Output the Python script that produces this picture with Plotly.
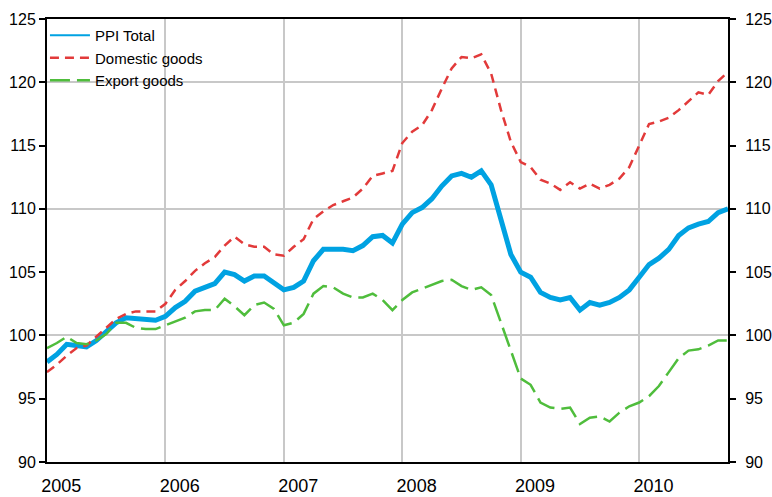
import plotly.graph_objects as go

# month index: 0 = Jan 2005
months = list(range(70))
years = [2005, 2006, 2007, 2008, 2009, 2010]
y_ticks = [90, 95, 100, 105, 110, 115, 120, 125]
y_grid = [100, 110, 120]

ppi_total = [
    97.9, 98.5, 99.3, 99.2, 99.1, 99.6, 100.3, 101.0, 101.4, 101.3, 101.2, 101.2,
    101.5, 102.2, 102.7, 103.5, 103.8, 104.1, 105.0, 104.8, 104.3, 104.7, 104.7, 104.2,
    103.6, 103.8, 104.3, 105.9, 106.8, 106.8, 106.8, 106.7, 107.1, 107.8, 107.9, 107.3,
    108.8, 109.7, 110.1, 110.8, 111.8, 112.6, 112.8, 112.5, 113.0, 111.9, 109.0, 106.4,
    105.0, 104.6, 103.4, 103.0, 102.8, 103.0, 102.0, 102.6, 102.4, 102.6, 103.0, 103.6,
    104.6, 105.6, 106.1, 106.8, 107.9, 108.5, 108.8, 109.0, 109.7, 110.0,
]
domestic = [
    97.1, 97.7, 98.4, 99.0, 99.2, 99.9, 100.6, 101.3, 101.7, 101.9, 101.9, 101.9,
    102.5, 103.6, 104.3, 105.1, 105.7, 106.2, 107.1, 107.8, 107.2, 107.0, 107.0, 106.4,
    106.3, 107.0, 107.6, 109.2, 109.8, 110.3, 110.6, 110.9, 111.6, 112.6, 112.8, 113.0,
    115.2, 116.1, 116.6, 117.8, 119.5, 121.1, 122.0, 121.9, 122.2, 120.7, 117.8, 115.3,
    113.7, 113.3, 112.3, 112.0, 111.5, 112.1, 111.6, 112.0, 111.6, 111.9, 112.4, 113.3,
    115.0, 116.7, 116.9, 117.2, 117.8, 118.5, 119.2, 119.0, 120.1, 120.8,
]
export = [
    99.0, 99.4, 99.9, 99.4, 99.3, 99.6, 100.1, 101.0, 101.0, 100.6, 100.5, 100.5,
    100.8, 101.1, 101.4, 101.9, 102.0, 102.0, 102.9, 102.3, 101.6, 102.4, 102.6, 102.1,
    100.8, 101.0, 101.7, 103.3, 103.9, 103.8, 103.3, 103.0, 103.0, 103.3, 102.8, 102.0,
    102.8, 103.4, 103.7, 104.0, 104.3, 104.4, 103.9, 103.6, 103.8, 103.2, 101.0, 98.9,
    96.6, 96.1, 94.7, 94.3, 94.2, 94.3, 93.0, 93.5, 93.6, 93.2, 93.9, 94.4,
    94.7, 95.2, 96.0, 97.1, 98.2, 98.8, 98.9, 99.2, 99.6, 99.6,
]

year_starts = [12 * (y - years[0]) for y in years]
label_pos = [s + 1.45 for s in year_starts]
x_range = [months[0], months[-1]]
y_range = [y_ticks[0], y_ticks[-1]]

FONT = "Liberation Sans, Arial, sans-serif"
GRID = "#c8c8c8"
BLUE = "#00a2e2"

fig = go.Figure()
fig.add_trace(go.Scatter(x=months, y=ppi_total, name="PPI Total", mode="lines",
                         legendgroup="ppi", showlegend=False,
                         line=dict(color=BLUE, width=5)))
# legend entry with a thin sample line, as in the original legend
fig.add_trace(go.Scatter(x=[None], y=[None], name="PPI Total", mode="lines",
                         legendgroup="ppi", line=dict(color=BLUE, width=2)))
fig.add_trace(go.Scatter(x=months, y=domestic, name="Domestic goods", mode="lines",
                         line=dict(color="#e23a3a", width=2.5, dash="9px,6px")))
fig.add_trace(go.Scatter(x=months, y=export, name="Export goods", mode="lines",
                         line=dict(color="#4fbd3c", width=2.5, dash="20px,7px")))

fig.update_layout(
    width=772, height=497,
    margin=dict(l=47, r=44, t=19, b=35, autoexpand=False),
    paper_bgcolor="white", plot_bgcolor="white",
    font=dict(family=FONT, size=16, color="black"),
    hovermode=False,
    showlegend=True,
    legend=dict(x=-0.003, y=1, xanchor="left", yanchor="top", bgcolor="rgba(0,0,0,0)",
                font=dict(size=15), tracegroupgap=0, itemwidth=40),
    xaxis=dict(range=x_range, tickvals=year_starts[1:], showticklabels=False,
               showgrid=True, gridcolor=GRID, gridwidth=2, ticks="", automargin=False,
               showline=True, linecolor="black", linewidth=2, mirror=True, zeroline=False),
    xaxis2=dict(overlaying="x", anchor="y", side="bottom", range=x_range,
                tickvals=label_pos, ticktext=[str(y) for y in years], automargin=False,
                showgrid=False, showline=False, ticks="", zeroline=False,
                tickfont=dict(size=18), ticklabelstandoff=11),
    yaxis=dict(range=y_range, tickvals=y_ticks, showgrid=False, zeroline=False,
               ticks="outside", ticklen=6, tickwidth=2, tickcolor="black", automargin=False,
               showline=True, linecolor="black", linewidth=2, tickfont=dict(size=16)),
    yaxis2=dict(overlaying="y", side="right", anchor="x", range=y_range, tickvals=y_ticks,
                showgrid=False, zeroline=False, ticks="outside", ticklen=6, tickwidth=2,
                tickcolor="black", showline=True, linecolor="black", linewidth=2,
                automargin=False, tickfont=dict(size=16), ticklabelstandoff=6),
    yaxis3=dict(overlaying="y", anchor="x", range=y_range, tickvals=y_grid, automargin=False,
                showgrid=True, gridcolor=GRID, gridwidth=2, showticklabels=False,
                ticks="", showline=False, zeroline=False),
)

# invisible helper traces so the overlay axes are drawn
fig.add_trace(go.Scatter(x=[months[0]], y=[ppi_total[0]], xaxis="x2", yaxis="y2",
                         mode="markers", marker=dict(opacity=0), showlegend=False,
                         hoverinfo="skip"))
fig.add_trace(go.Scatter(x=[months[0]], y=[ppi_total[0]], xaxis="x", yaxis="y3",
                         mode="markers", marker=dict(opacity=0), showlegend=False,
                         hoverinfo="skip"))

fig.write_html("out.html",
               config={"displayModeBar": False, "staticPlot": True},
               post_script="document.body.style.margin='0';document.body.style.overflow='hidden';")
